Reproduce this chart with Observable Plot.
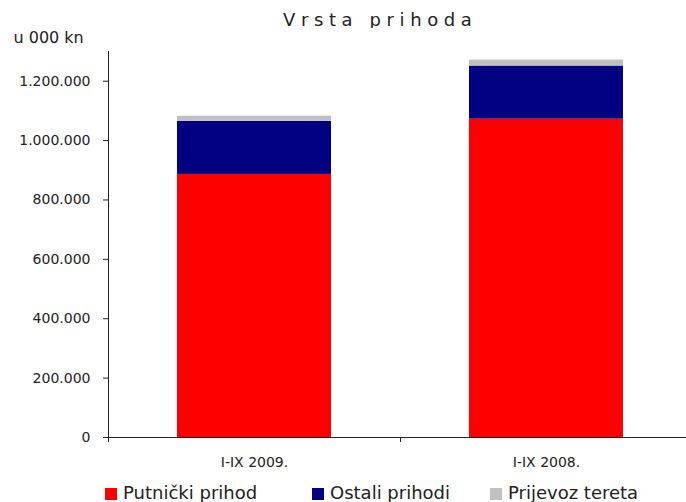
<!DOCTYPE html>
<html>
<head>
<meta charset="utf-8">
<script src="https://cdn.jsdelivr.net/npm/d3@7"></script>
<script src="https://cdn.jsdelivr.net/npm/@observablehq/plot@0.6"></script>
<style>
  html, body { margin: 0; padding: 0; background: #fff; }
  #wrap { position: relative; width: 686px; height: 502px; overflow: hidden; font-family: "DejaVu Sans", sans-serif; color: #222; }
  #title { position: absolute; left: 283px; top: 6px; font-size: 18px; line-height: 28px; letter-spacing: 5.6px; white-space: nowrap; color: #222; }
  #chart { position: absolute; left: 0; top: 28px; }
  #chart svg { max-width: none !important; height: 445px !important; }
  .lg { position: absolute; top: 478px; height: 29px; display: flex; align-items: center; font-size: 18px; white-space: nowrap; color: #222; }
  .lg .sw { width: 12px; height: 12px; margin-right: 6px; margin-top: 2px; }
</style>
</head>
<body>
<div id="wrap">
  <div id="title">Vrsta prihoda</div>
  <div id="chart"></div>
</div>
<script>
// ---- data ----
const categories = ["I-IX 2009.", "I-IX 2008."];
const seriesNames = ["Putnički prihod", "Ostali prihodi", "Prijevoz tereta"];
const seriesColors = ["#FF0000", "#000080", "#C0C0C0"];
const putnickiPrihod = [886000, 1072000];
const ostaliPrihodi = [179000, 179000];
const prijevozTereta = [17000, 20000];
const yTicks = [0, 200000, 400000, 600000, 800000, 1000000, 1200000];
const yLabel = "u 000 kn";

const seriesValues = [putnickiPrihod, ostaliPrihodi, prijevozTereta];
const data = [];
seriesNames.forEach((s, i) => categories.forEach((c, j) => data.push({cat: c, series: s, value: seriesValues[i][j]})));

const hr = d3.formatLocale({decimal: ",", thousands: ".", grouping: [3], currency: ["", " kn"]});
const fmt = hr.format(",d");

const W = 692, H = 445, mL = 108, mR = 0, mT = 23, mB = 36;

const plot = Plot.plot({
  width: W, height: H,
  marginLeft: mL, marginRight: mR, marginTop: mT, marginBottom: mB,
  style: {fontFamily: "DejaVu Sans, sans-serif", fontSize: "14px", color: "#222", background: "white", overflow: "visible", maxWidth: "none"},
  x: {domain: categories, paddingInner: 0.473, paddingOuter: 0.2365, label: null},
  y: {domain: [0, 1300000], label: null},
  color: {domain: seriesNames, range: seriesColors},
  marks: [
    Plot.barY(data, {x: "cat", y: "value", fill: "series"}),
    Plot.ruleY([0], {stroke: "#222", strokeWidth: 1}),
    Plot.axisY({ticks: yTicks, tickFormat: fmt, tickSize: 5, tickPadding: 13, label: null, stroke: "#222", strokeOpacity: 1, fontSize: 14}),
    Plot.axisX({tickSize: 0, tickPadding: 20, label: null, fontSize: 14}),
    Plot.text([yLabel], {frameAnchor: "top-left", lineAnchor: "middle", dx: -95, dy: -13.5, textAnchor: "start", fontSize: 16, fill: "#222"})
  ]
});

// axis line and boundary ticks drawn from the plot's scales
const sx = plot.scale("x"), sy = plot.scale("y");
const svg = d3.select(plot.tagName.toLowerCase() === "svg" ? plot : plot.querySelector("svg"));
const g = svg.append("g").attr("stroke", "#222").attr("stroke-width", 1).attr("shape-rendering", "crispEdges");
const x0 = sx.range[0];
g.append("line").attr("x1", x0).attr("x2", x0).attr("y1", sy.apply(0)).attr("y2", sy.apply(sy.domain[1]));
const step = sx.step;
const bounds = categories.map(c => sx.apply(c) + sx.bandwidth / 2 - step / 2);
bounds.push(sx.apply(categories[categories.length - 1]) + sx.bandwidth / 2 + step / 2);
bounds.forEach(b => g.append("line").attr("x1", b).attr("x2", b).attr("y1", sy.apply(0)).attr("y2", sy.apply(0) + 5));

document.getElementById("chart").appendChild(plot);

// legend
const legendLefts = [105, 312, 490];
const wrap = document.getElementById("wrap");
seriesNames.forEach((s, i) => {
  const d = document.createElement("div");
  d.className = "lg";
  d.style.left = legendLefts[i] + "px";
  const sw = document.createElement("span");
  sw.className = "sw";
  sw.style.background = seriesColors[i];
  d.appendChild(sw);
  d.appendChild(document.createTextNode(s));
  wrap.appendChild(d);
});
</script>
</body>
</html>
